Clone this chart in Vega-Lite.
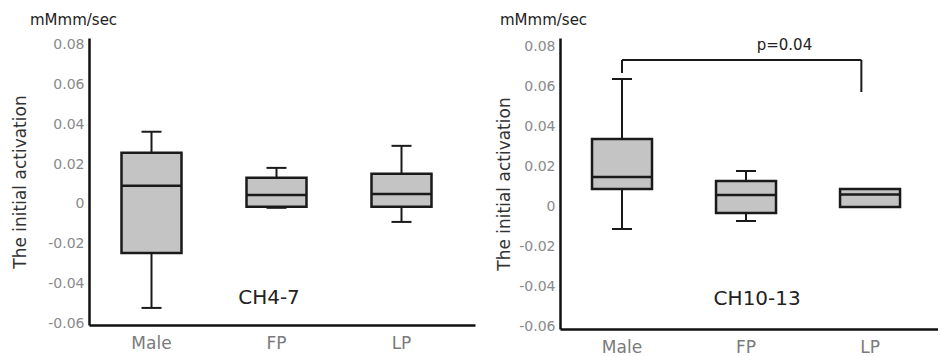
{
  "$schema": "https://vega.github.io/schema/vega-lite/v6.json",
  "padding": {"left": 11, "top": 12, "right": 0, "bottom": 0},
  "spacing": 20,
  "background": "white",
  "datasets": {
    "ch47": [
      {"group": "Male", "lo": -0.0524, "q1": -0.0247, "med": 0.0091, "q3": 0.0257, "hi": 0.0363},
      {"group": "FP", "lo": -0.0020, "q1": -0.0015, "med": 0.0045, "q3": 0.0131, "hi": 0.0181},
      {"group": "LP", "lo": -0.0091, "q1": -0.0015, "med": 0.0050, "q3": 0.0151, "hi": 0.0292}
    ],
    "ch1013": [
      {"group": "Male", "lo": -0.0115, "q1": 0.0085, "med": 0.0145, "q3": 0.0335, "hi": 0.0635},
      {"group": "FP", "lo": -0.0075, "q1": -0.0035, "med": 0.0055, "q3": 0.0125, "hi": 0.0175},
      {"group": "LP", "lo": -0.0005, "q1": -0.0005, "med": 0.0057, "q3": 0.0085, "hi": 0.0085}
    ]
  },
  "hconcat": [
    {
      "width": 386,
      "height": 287,
      "title": {"text": "mMmm/sec", "anchor": "start", "frame": "group", "dx": -59, "offset": 10, "fontSize": 15, "fontWeight": "normal", "color": "#222"},
      "data": {"name": "ch47"},
      "encoding": {
        "x": {"field": "group", "type": "nominal",
              "scale": {"domain": ["Male", "FP", "LP"], "paddingInner": 0, "paddingOuter": 0.044, "align": 0},
              "axis": {"title": null, "labelAngle": 0, "labelPadding": 10}}
      },
      "layer": [
        {"mark": {"type": "rule", "color": "#1a1a1a", "strokeWidth": 2},
         "encoding": {"y": {"field": "lo", "type": "quantitative",
            "scale": {"domain": [-0.061, 0.0835], "nice": false, "zero": false},
            "axis": {"title": "The initial activation", "values": [-0.06, -0.04, -0.02, 0, 0.02, 0.04, 0.06, 0.08],
                     "labelExpr": "abs(datum.value) < 1e-9 ? '0' : (datum.value < 0 ? '-' + format(-datum.value, '.2f') : format(datum.value, '.2f'))",
                     "titlePadding": 18}},
            "y2": {"field": "hi"}}},
        {"mark": {"type": "tick", "color": "#1a1a1a", "opacity": 1, "thickness": 2, "size": 20},
         "encoding": {"y": {"field": "lo", "type": "quantitative"}}},
        {"mark": {"type": "tick", "color": "#1a1a1a", "opacity": 1, "thickness": 2, "size": 20},
         "encoding": {"y": {"field": "hi", "type": "quantitative"}}},
        {"mark": {"type": "bar", "size": 60, "fill": "#c4c4c4", "stroke": "#1a1a1a", "strokeWidth": 2.5, "opacity": 1},
         "encoding": {"y": {"field": "q1", "type": "quantitative"}, "y2": {"field": "q3"}}},
        {"mark": {"type": "tick", "color": "#1a1a1a", "opacity": 1, "thickness": 2.5, "size": 60},
         "encoding": {"y": {"field": "med", "type": "quantitative"}}},
        {"data": {"values": [{"label": "CH4-7", "group": "FP", "v": -0.0473}]},
         "mark": {"type": "text", "fontSize": 20, "color": "#222", "baseline": "middle", "align": "center"},
         "encoding": {"x": {"field": "group", "type": "nominal", "bandPosition": 0.44},
                      "y": {"field": "v", "type": "quantitative"},
                      "text": {"field": "label"}}}
      ]
    },
    {
      "width": 378,
      "height": 291,
      "title": {"text": "mMmm/sec", "anchor": "start", "frame": "group", "dx": -60, "offset": 10, "fontSize": 15, "fontWeight": "normal", "color": "#222"},
      "data": {"name": "ch1013"},
      "encoding": {
        "x": {"field": "group", "type": "nominal",
              "scale": {"domain": ["Male", "FP", "LP"], "paddingInner": 0, "paddingOuter": 0.024, "align": 0},
              "axis": {"title": null, "labelAngle": 0, "labelPadding": 10}}
      },
      "layer": [
        {"mark": {"type": "rule", "color": "#1a1a1a", "strokeWidth": 2},
         "encoding": {"y": {"field": "lo", "type": "quantitative",
            "scale": {"domain": [-0.0615, 0.084], "nice": false, "zero": false},
            "axis": {"title": "The initial activation", "values": [-0.06, -0.04, -0.02, 0, 0.02, 0.04, 0.06, 0.08],
                     "labelExpr": "abs(datum.value) < 1e-9 ? '0' : (datum.value < 0 ? '-' + format(-datum.value, '.2f') : format(datum.value, '.2f'))",
                     "titlePadding": 5}},
            "y2": {"field": "hi"}}},
        {"mark": {"type": "tick", "color": "#1a1a1a", "opacity": 1, "thickness": 2, "size": 20},
         "encoding": {"y": {"field": "lo", "type": "quantitative"}}},
        {"mark": {"type": "tick", "color": "#1a1a1a", "opacity": 1, "thickness": 2, "size": 20},
         "encoding": {"y": {"field": "hi", "type": "quantitative"}}},
        {"mark": {"type": "bar", "size": 60, "fill": "#c4c4c4", "stroke": "#1a1a1a", "strokeWidth": 2.5, "opacity": 1},
         "encoding": {"y": {"field": "q1", "type": "quantitative"}, "y2": {"field": "q3"}}},
        {"mark": {"type": "tick", "color": "#1a1a1a", "opacity": 1, "thickness": 2.5, "size": 60},
         "encoding": {"y": {"field": "med", "type": "quantitative"}}},
        {"data": {"values": [{"a": "Male", "b": "LP", "top": 0.073, "left": 0.0665, "right": 0.057}]},
         "mark": {"type": "rule", "color": "#1a1a1a", "strokeWidth": 2},
         "encoding": {"x": {"field": "a", "type": "nominal"},
                      "y": {"field": "left", "type": "quantitative"}, "y2": {"field": "top"}}},
        {"data": {"values": [{"a": "Male", "b": "LP", "top": 0.073, "left": 0.0665, "right": 0.057}]},
         "mark": {"type": "rule", "color": "#1a1a1a", "strokeWidth": 2},
         "encoding": {"x": {"field": "b", "type": "nominal", "bandPosition": 0.43},
                      "y": {"field": "right", "type": "quantitative"}, "y2": {"field": "top"}}},
        {"data": {"values": [{"a": "Male", "b": "LP", "top": 0.073, "left": 0.0665, "right": 0.057}]},
         "mark": {"type": "rule", "color": "#1a1a1a", "strokeWidth": 2},
         "encoding": {"x": {"field": "a", "type": "nominal"}, "x2": {"field": "b", "bandPosition": 0.43},
                      "y": {"field": "top", "type": "quantitative"}}},
        {"data": {"values": [{"label": "p=0.04", "group": "FP", "v": 0.0805}]},
         "mark": {"type": "text", "fontSize": 15, "color": "#222", "baseline": "middle", "align": "center"},
         "encoding": {"x": {"field": "group", "type": "nominal", "bandPosition": 0.81},
                      "y": {"field": "v", "type": "quantitative"},
                      "text": {"field": "label"}}},
        {"data": {"values": [{"label": "CH10-13", "group": "FP", "v": -0.0465}]},
         "mark": {"type": "text", "fontSize": 20, "color": "#222", "baseline": "middle", "align": "center"},
         "encoding": {"x": {"field": "group", "type": "nominal", "bandPosition": 0.59},
                      "y": {"field": "v", "type": "quantitative"},
                      "text": {"field": "label"}}}
      ]
    }
  ],
  "config": {
    "font": "DejaVu Sans",
    "view": {"stroke": null},
    "axis": {"domainColor": "#111", "domainWidth": 2.5, "ticks": false, "grid": false,
             "labelColor": "#8a8a8a", "labelFont": "DejaVu Sans", "titleFont": "DejaVu Sans",
             "titleFontWeight": "normal", "titleColor": "#333"},
    "axisY": {"labelFontSize": 14, "labelPadding": 5, "titleFontSize": 17},
    "axisX": {"labelFontSize": 17, "labelColor": "#7a7a7a"}
  }
}
